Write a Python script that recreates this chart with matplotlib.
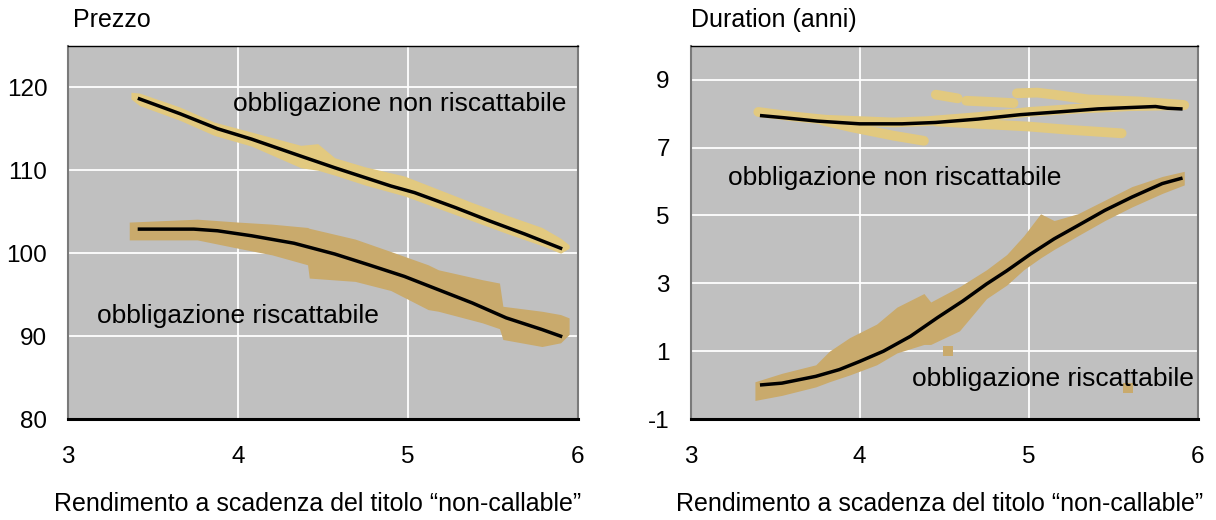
import numpy as np
import matplotlib
matplotlib.use('Agg')
import matplotlib.pyplot as plt

plt.rcParams['font.family'] = ['Liberation Sans', 'DejaVu Sans']
plt.rcParams['axes.unicode_minus'] = False

# --- Prezzo: obbligazione non riscattabile ---
p_nc_x = [3.42, 3.66, 3.88, 4.08, 4.37, 4.57, 4.90, 5.04, 5.28, 5.48, 5.69, 5.90]
p_nc_y = [118.6, 116.8, 115.0, 113.75, 111.7, 110.3, 108.1, 107.3, 105.5, 103.9, 102.3, 100.6]
p_nc_band_x = [3.37, 3.42, 3.66, 3.86, 4.08, 4.37, 4.47, 4.57, 4.75, 4.98, 5.18, 5.38, 5.58, 5.79, 5.90, 5.95]
p_nc_band_lo = [118.6, 117.8, 116.0, 114.2, 112.9, 110.3, 110.0, 109.4, 108.2, 106.9, 105.4, 103.9, 102.4, 100.9, 100.0, 100.6]
p_nc_band_hi = [119.4, 119.3, 117.6, 115.8, 114.6, 113.0, 113.2, 111.5, 110.4, 109.3, 107.7, 106.1, 104.6, 103.1, 101.8, 101.0]

# --- Prezzo: obbligazione riscattabile ---
p_c_x = [3.42, 3.74, 3.88, 4.08, 4.33, 4.57, 4.77, 4.98, 5.18, 5.38, 5.58, 5.79, 5.90]
p_c_y = [102.9, 102.9, 102.7, 102.1, 101.2, 99.9, 98.6, 97.2, 95.6, 94.0, 92.2, 90.8, 90.0]
p_c_band_x = [3.36, 3.76, 4.00, 4.20, 4.41, 4.42, 4.69, 4.90, 5.12, 5.18, 5.44, 5.54, 5.56, 5.79, 5.90, 5.95]
p_c_band_lo = [101.6, 101.6, 100.6, 99.8, 98.6, 97.0, 96.6, 95.5, 93.2, 93.0, 91.6, 90.9, 89.6, 88.75, 89.2, 90.2]
p_c_band_hi = [103.75, 104.1, 103.75, 103.5, 103.1, 103.0, 101.7, 100.2, 98.6, 98.0, 96.8, 96.4, 93.6, 93.0, 92.6, 92.2]

# --- Duration: obbligazione non riscattabile ---
d_nc_x = [3.42, 3.55, 3.75, 4.00, 4.25, 4.45, 4.70, 4.95, 5.20, 5.41, 5.60, 5.75, 5.82, 5.90]
d_nc_y = [7.94, 7.88, 7.78, 7.70, 7.70, 7.74, 7.84, 7.97, 8.06, 8.14, 8.18, 8.21, 8.16, 8.14]
# scattered strips of points around the curve
d_nc_s1_x = [3.40, 3.60, 3.80, 4.00, 4.20, 4.40, 4.70, 5.00, 5.30, 5.60, 5.92]
d_nc_s1_y = [8.05, 7.92, 7.82, 7.78, 7.74, 7.78, 7.90, 8.05, 8.15, 8.22, 8.25]
d_nc_s2_x = [3.78, 3.95, 4.05, 4.20, 4.38]
d_nc_s2_y = [7.80, 7.60, 7.50, 7.35, 7.20]
d_nc_s3_x = [4.45, 4.70, 5.00, 5.25, 5.55]
d_nc_s3_y = [7.77, 7.70, 7.62, 7.52, 7.42]
d_nc_s4_x = [4.45, 4.58]
d_nc_s4_y = [8.56, 8.45]
d_nc_s5_x = [4.63, 4.80, 4.91]
d_nc_s5_y = [8.38, 8.34, 8.31]
d_nc_s6_x = [4.93, 5.05, 5.15, 5.35, 5.65, 5.91]
d_nc_s6_y = [8.60, 8.62, 8.56, 8.42, 8.36, 8.26]

# --- Duration: obbligazione riscattabile ---
d_c_x = [3.42, 3.54, 3.74, 3.88, 4.00, 4.14, 4.30, 4.46, 4.61, 4.75, 4.87, 5.01, 5.15, 5.29, 5.45, 5.61, 5.79, 5.90]
d_c_y = [0.01, 0.06, 0.26, 0.46, 0.70, 1.00, 1.44, 1.99, 2.48, 2.98, 3.37, 3.86, 4.31, 4.70, 5.15, 5.54, 5.94, 6.09]
d_c_band_x = [3.38, 3.54, 3.74, 3.82, 3.94, 4.10, 4.22, 4.38, 4.42, 4.59, 4.75, 4.87, 4.97, 5.07, 5.15, 5.29, 5.45, 5.61, 5.79, 5.92]
d_c_band_lo = [-0.45, -0.30, -0.05, 0.10, 0.30, 0.60, 0.95, 1.20, 1.20, 1.60, 2.55, 2.95, 3.40, 3.75, 4.00, 4.40, 4.85, 5.25, 5.65, 5.90]
d_c_band_hi = [0.10, 0.35, 0.60, 1.00, 1.40, 1.80, 2.30, 2.70, 2.45, 2.90, 3.40, 3.85, 4.40, 5.05, 4.85, 5.05, 5.45, 5.85, 6.15, 6.30]
d_c_out_x = [4.52, 5.59]
d_c_out_y = [1.00, -0.08]

light = '#e2c97f'
dark = '#c9aa6c'
bg = '#c0c0c0'
xlab = 'Rendimento a scadenza del titolo \u201cnon-callable\u201d'

fig = plt.figure(figsize=(12.16, 5.2), dpi=100)
ax1 = fig.add_axes([0.056, 0.194, 0.419, 0.718])
ax2 = fig.add_axes([0.568, 0.194, 0.417, 0.718])

for ax in (ax1, ax2):
    ax.set_facecolor(bg)
    ax.grid(True, color='white', linewidth=1.3)
    ax.set_axisbelow(True)
    ax.tick_params(length=0, labelsize=17.5)
    ax.tick_params(axis='x', pad=19)
    ax.tick_params(axis='y', pad=15)
    ax.spines['top'].set_color('black')
    ax.spines['top'].set_linewidth(1.0)
    ax.spines['bottom'].set_color('black')
    ax.spines['bottom'].set_linewidth(2.2)
    for s in ('left', 'right'):
        ax.spines[s].set_color('#7a7a7a')
        ax.spines[s].set_linewidth(1.5)
    ax.set_xlim(3, 6)
    ax.set_xticks([3, 4, 5, 6])
    ax.set_xlabel(xlab, fontsize=18)
    ax.xaxis.set_label_coords(0.49, -0.196)

# left panel
ax1.fill_between(p_nc_band_x, p_nc_band_lo, p_nc_band_hi, color=light, lw=0)
ax1.fill_between(p_c_band_x, p_c_band_lo, p_c_band_hi, color=dark, lw=0)
ax1.plot(p_nc_x, p_nc_y, color='black', lw=2.5)
ax1.plot(p_c_x, p_c_y, color='black', lw=2.5)
ax1.set_ylim(80, 125)
ax1.set_yticks([80, 90, 100, 110, 120])
ax1.text(3.97, 118.0, 'obbligazione non riscattabile', fontsize=19, va='center')
ax1.text(3.17, 92.4, 'obbligazione riscattabile', fontsize=19, va='center')
ax1.text(0.01, 1.051, 'Prezzo', transform=ax1.transAxes, fontsize=18, va='baseline')

# right panel
for sx, sy in [(d_nc_s1_x, d_nc_s1_y), (d_nc_s2_x, d_nc_s2_y), (d_nc_s3_x, d_nc_s3_y),
               (d_nc_s4_x, d_nc_s4_y), (d_nc_s5_x, d_nc_s5_y), (d_nc_s6_x, d_nc_s6_y)]:
    ax2.plot(sx, sy, color=light, lw=7, solid_capstyle='round')
ax2.fill_between(d_c_band_x, d_c_band_lo, d_c_band_hi, color=dark, lw=0)
ax2.scatter(d_c_out_x, d_c_out_y, marker='s', s=45, color=dark, lw=0)
ax2.plot(d_nc_x, d_nc_y, color='black', lw=2.5)
ax2.plot(d_c_x, d_c_y, color='black', lw=2.5)
ax2.set_ylim(-1, 10)
ax2.set_yticks([-1, 1, 3, 5, 7, 9])
ax2.text(3.22, 6.1, 'obbligazione non riscattabile', fontsize=19, va='center')
ax2.text(4.31, 0.17, 'obbligazione riscattabile', fontsize=19, va='center')
ax2.text(0.0, 1.051, 'Duration (anni)', transform=ax2.transAxes, fontsize=18, va='baseline')

fig.savefig('out.png', dpi=100)
